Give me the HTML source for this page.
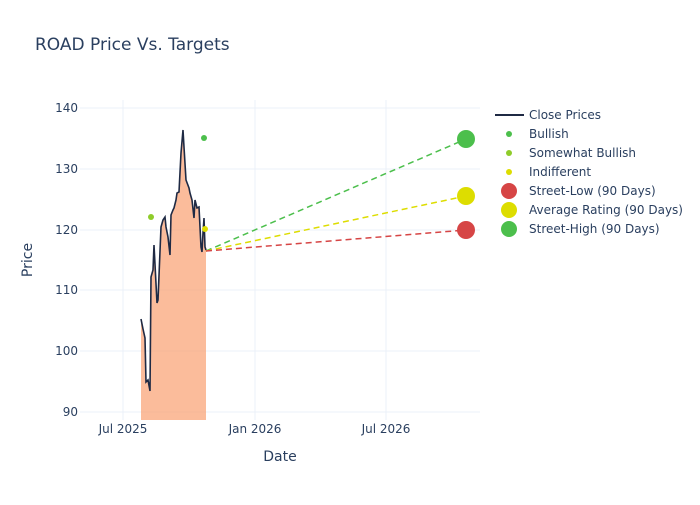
<!DOCTYPE html>
<html><head><meta charset="utf-8"><style>body{margin:0;background:#fff}svg{font-family:"DejaVu Sans","Liberation Sans",sans-serif}</style></head><body>
<svg width="700" height="500" xmlns="http://www.w3.org/2000/svg">
<rect width="700" height="500" fill="#fff"/>
<text x="35" y="50" font-size="17" fill="#2a3f5f">ROAD Price Vs. Targets</text>
<g stroke="#ebf0f8" stroke-width="1">
<line x1="80" x2="480" y1="108" y2="108"/><line x1="80" x2="480" y1="169" y2="169"/><line x1="80" x2="480" y1="230" y2="230"/><line x1="80" x2="480" y1="290" y2="290"/><line x1="80" x2="480" y1="351" y2="351"/><line x1="80" x2="480" y1="412" y2="412"/>
<line x1="123" x2="123" y1="100" y2="420"/><line x1="255" x2="255" y1="100" y2="420"/><line x1="386" x2="386" y1="100" y2="420"/>
</g>
<g font-size="12" fill="#2a3f5f" text-anchor="end">
<text x="78" y="112">140</text><text x="78" y="173">130</text><text x="78" y="234">120</text><text x="78" y="294">110</text><text x="78" y="355">100</text><text x="78" y="416">90</text>
</g>
<g font-size="12" fill="#2a3f5f" text-anchor="middle">
<text x="123" y="433">Jul 2025</text><text x="255" y="433">Jan 2026</text><text x="386" y="433">Jul 2026</text>
<text x="280" y="461" font-size="14">Date</text>
</g>
<text x="32" y="260" font-size="14" fill="#2a3f5f" text-anchor="middle" transform="rotate(-90 32 260)">Price</text>
<polygon fill="#f9a679" fill-opacity="0.75" points="141,420 141,319 143,329 145,338 146,382 148,380 150,391 151,277 153,270 154,245 157,303 158,300 161,227 163,220 165,217 166,227 168,237 170,255 171,215 173,210 174,208 176,200 177,193 179,192 181,153 183,130 184,147 186,180 189,188 190,193 192,200 194,218 195,200 197,208 199,207 201,247 202,252 203,233 204,218 205,247 206,250 206,420"/>
<polyline fill="none" stroke="#1f2a44" stroke-width="1.6" points="141,319 143,329 145,338 146,382 148,380 150,391 151,277 153,270 154,245 157,303 158,300 161,227 163,220 165,217 166,227 168,237 170,255 171,215 173,210 174,208 176,200 177,193 179,192 181,153 183,130 184,147 186,180 189,188 190,193 192,200 194,218 195,200 197,208 199,207 201,247 202,252 203,233 204,218 205,247 206,250"/>
<g stroke-width="1.5" stroke-dasharray="6,4" fill="none">
<line x1="206" y1="251" x2="466" y2="139" stroke="#4cbf4c"/>
<line x1="206" y1="251" x2="466" y2="196" stroke="#dddd00"/>
<line x1="206" y1="251" x2="466" y2="230" stroke="#d64545"/>
</g>
<circle cx="204" cy="138" r="3" fill="#4cbf4c"/>
<circle cx="151" cy="217" r="3" fill="#8fcc2a"/>
<circle cx="205" cy="229" r="3" fill="#dddd00"/>
<circle cx="466" cy="230" r="9" fill="#d64545"/>
<circle cx="466" cy="196" r="9" fill="#dddd00"/>
<circle cx="466" cy="139" r="9" fill="#4cbf4c"/>
<g font-size="12" fill="#2a3f5f">
<line x1="495" x2="524" y1="115" y2="115" stroke="#1f2a44" stroke-width="2"/><text x="529" y="119">Close Prices</text>
<circle cx="509" cy="134" r="3" fill="#4cbf4c"/><text x="529" y="138">Bullish</text>
<circle cx="509" cy="153" r="3" fill="#8fcc2a"/><text x="529" y="157">Somewhat Bullish</text>
<circle cx="509" cy="172" r="3" fill="#dddd00"/><text x="529" y="176">Indifferent</text>
<circle cx="509" cy="191" r="8" fill="#d64545"/><text x="529" y="195">Street-Low (90 Days)</text>
<circle cx="509" cy="210" r="8" fill="#dddd00"/><text x="529" y="214">Average Rating (90 Days)</text>
<circle cx="509" cy="229" r="8" fill="#4cbf4c"/><text x="529" y="233">Street-High (90 Days)</text>
</g>
</svg>
</body></html>
